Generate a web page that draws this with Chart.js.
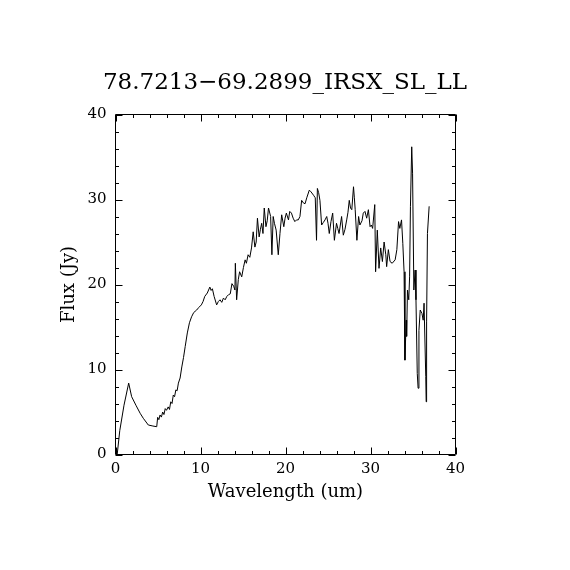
<!DOCTYPE html>
<html><head><meta charset="utf-8">
<script src="https://cdn.jsdelivr.net/npm/chart.js@4"></script>
<style>html,body{margin:0;padding:0;background:#fff}#wrap{width:570px;height:570px}</style>
</head><body><div id="wrap"><canvas id="c" width="570" height="570"></canvas></div>
<script>
const chartTitle = "78.7213\u221269.2899_IRSX_SL_LL";
const xLabel = "Wavelength (um)";
const yLabel = "Flux (Jy)";
const xTicks = [0, 10, 20, 30, 40];
const yTicks = [0, 10, 20, 30, 40];
const minorStep = 2;

const wavelength = [
  0.2, 0.5, 1.0, 1.55, 1.9, 2.4, 2.9, 3.27, 3.86, 4.4, 4.85, 4.96, 5.1, 5.24, 5.4, 5.55, 5.7, 5.85, 6.0, 6.2,
  6.35, 6.5, 6.65, 6.8, 6.95, 7.1, 7.25, 7.4, 7.6, 7.8, 8.0, 8.2, 8.45, 8.7, 8.95, 9.2, 9.55, 9.8, 10.1, 10.3,
  10.5, 10.8, 11.1, 11.25, 11.4, 11.6, 11.9, 12.1, 12.3, 12.5, 12.7, 12.9, 13.1, 13.3, 13.5, 13.7, 13.9, 14.05, 14.1, 14.25,
  14.45, 14.6, 14.85, 15.05, 15.25, 15.4, 15.6, 15.8, 16.0, 16.2, 16.4, 16.55, 16.7, 16.9, 17.05, 17.2, 17.35, 17.5, 17.7, 17.85,
  18.0, 18.25, 18.4, 18.55, 18.7, 18.9, 19.15, 19.35, 19.55, 19.8, 19.95, 20.1, 20.35, 20.5, 20.7, 20.9, 21.1, 21.3, 21.5, 21.7,
  21.9, 22.1, 22.3, 22.5, 22.8, 23.0, 23.3, 23.5, 23.65, 23.75, 23.9, 24.05, 24.25, 24.45, 24.65, 24.85, 25.0, 25.15, 25.35, 25.55,
  25.75, 26.0, 26.15, 26.3, 26.6, 26.8, 27.0, 27.2, 27.35, 27.5, 27.65, 27.8, 28.0, 28.1, 28.2, 28.4, 28.6, 28.75, 29.0, 29.15,
  29.35, 29.55, 29.75, 29.95, 30.1, 30.25, 30.5, 30.6, 30.8, 31.0, 31.2, 31.4, 31.6, 31.8, 31.9, 32.1, 32.3, 32.55, 32.9, 33.1,
  33.3, 33.45, 33.65, 33.8, 33.95, 34.05, 34.2, 34.25, 34.35, 34.5, 34.6, 34.7, 34.85, 34.95, 35.1, 35.25, 35.35, 35.5, 35.6, 35.7,
  35.85, 36.05, 36.2, 36.3, 36.5, 36.55, 36.6, 36.7, 36.9
];
const flux = [
  0.0, 2.8, 5.8, 8.4, 6.8, 5.8, 4.85, 4.26, 3.47, 3.35, 3.27, 4.37, 4.1, 4.65, 4.4, 5.0, 4.7, 5.4, 5.2, 5.6,
  5.3, 6.2, 6.0, 7.0, 6.8, 7.6, 7.5, 8.4, 9.0, 10.3, 11.4, 12.7, 14.3, 15.5, 16.2, 16.7, 17.0, 17.3, 17.6, 18.0,
  18.6, 19.0, 19.7, 19.3, 19.5, 18.6, 17.6, 18.0, 18.2, 17.9, 18.4, 18.2, 18.6, 18.8, 18.9, 20.1, 19.8, 19.35, 22.5, 18.2,
  20.6, 21.5, 20.9, 22.0, 22.9, 22.5, 23.5, 23.2, 24.3, 26.2, 24.4, 25.0, 27.8, 25.6, 26.5, 27.2, 26.0, 29.0, 26.8, 27.5,
  29.0, 28.0, 23.5, 28.0, 27.2, 26.4, 23.5, 26.0, 28.2, 26.8, 27.8, 28.4, 27.6, 28.6, 28.4, 27.8, 27.4, 27.6, 27.6, 28.0,
  29.9, 29.6, 29.5, 30.2, 31.1, 30.9, 30.5, 30.2, 25.2, 31.3, 30.8, 29.9, 27.0, 27.3, 27.6, 28.0, 27.2, 26.0, 27.4, 28.4,
  25.2, 27.2, 26.6, 26.0, 28.0, 25.8, 26.5, 27.6, 28.5, 29.9, 29.0, 28.8, 31.5, 30.2, 28.8, 25.2, 28.0, 27.0, 27.5, 28.4,
  28.6, 27.8, 28.8, 26.8, 27.0, 26.6, 29.4, 21.5, 26.4, 21.9, 24.3, 22.7, 25.0, 23.5, 22.1, 24.1, 22.7, 22.5, 22.9, 24.1,
  27.4, 26.6, 27.6, 24.85, 21.5, 11.1, 15.8, 13.9, 19.35, 18.2, 20.9, 29.2, 36.2, 33.1, 19.35, 21.7, 18.2, 9.55, 7.8, 14.6,
  17.0, 16.6, 15.8, 17.8, 9.2, 6.2, 15.6, 26.0, 29.2
];

const points = wavelength.map((w, i) => ({x: w, y: flux[i]}));

const serif = "'DejaVu Serif', 'Liberation Serif', serif";

const boxTicks = {
  id: 'boxTicks',
  afterDraw(chart) {
    const {ctx, chartArea: a, scales: {x, y}} = chart;
    ctx.save();
    ctx.strokeStyle = '#000';
    ctx.lineWidth = 1;
    ctx.beginPath();
    ctx.rect(a.left, a.top, a.right - a.left, a.bottom - a.top);
    const majLen = 7, minLen = 3.5;
    for (let v = x.min; v <= x.max + 1e-9; v += minorStep) {
      const L = xTicks.includes(v) ? majLen : minLen;
      const p = Math.round(x.getPixelForValue(v)) + 0.5;
      ctx.moveTo(p, a.bottom); ctx.lineTo(p, a.bottom - L);
      ctx.moveTo(p, a.top); ctx.lineTo(p, a.top + L);
    }
    for (let v = y.min; v <= y.max + 1e-9; v += minorStep) {
      const L = yTicks.includes(v) ? majLen : minLen;
      const p = Math.round(y.getPixelForValue(v)) + 0.5;
      ctx.moveTo(a.left, p); ctx.lineTo(a.left + L, p);
      ctx.moveTo(a.right, p); ctx.lineTo(a.right - L, p);
    }
    ctx.stroke();
    ctx.restore();
  }
};

new Chart(document.getElementById('c'), {
  type: 'line',
  data: {
    datasets: [{
      data: points,
      borderColor: '#000',
      borderWidth: 1,
      pointRadius: 0,
      tension: 0,
      fill: false
    }]
  },
  options: {
    responsive: false,
    devicePixelRatio: 1,
    animation: false,
    layout: {padding: 0},
    plugins: {
      legend: {display: false},
      tooltip: {enabled: false},
      title: {
        display: true,
        text: chartTitle,
        color: '#000',
        font: {family: serif, size: 23, weight: 'normal'},
        padding: {top: 69.5, bottom: 17.4}
      }
    },
    scales: {
      x: {
        type: 'linear',
        min: 0, max: 40,
        afterBuildTicks: s => { s.ticks = xTicks.map(v => ({value: v})); },
        afterFit: s => { s.height = 115.5; },
        grid: {display: false, drawTicks: false},
        border: {display: false},
        ticks: {color: '#000', font: {family: serif, size: 15}, padding: 6, maxRotation: 0},
        title: {display: true, text: xLabel, color: '#000', font: {family: serif, size: 18}, padding: {top: 0, bottom: 67}}
      },
      y: {
        type: 'linear',
        min: 0, max: 40,
        afterBuildTicks: s => { s.ticks = yTicks.map(v => ({value: v})); },
        afterFit: s => { s.width = 115.5; },
        grid: {display: false, drawTicks: false},
        border: {display: false},
        ticks: {color: '#000', font: {family: serif, size: 15}, padding: 9},
        title: {display: true, text: yLabel, color: '#000', font: {family: serif, size: 18}, padding: {top: 59, bottom: 0}}
      },
      y2: {
        type: 'linear',
        position: 'right',
        display: true,
        afterFit: s => { s.width = 114.5; },
        grid: {display: false, drawTicks: false},
        border: {display: false},
        ticks: {display: false}
      }
    }
  },
  plugins: [boxTicks]
});
</script>
</body></html>
